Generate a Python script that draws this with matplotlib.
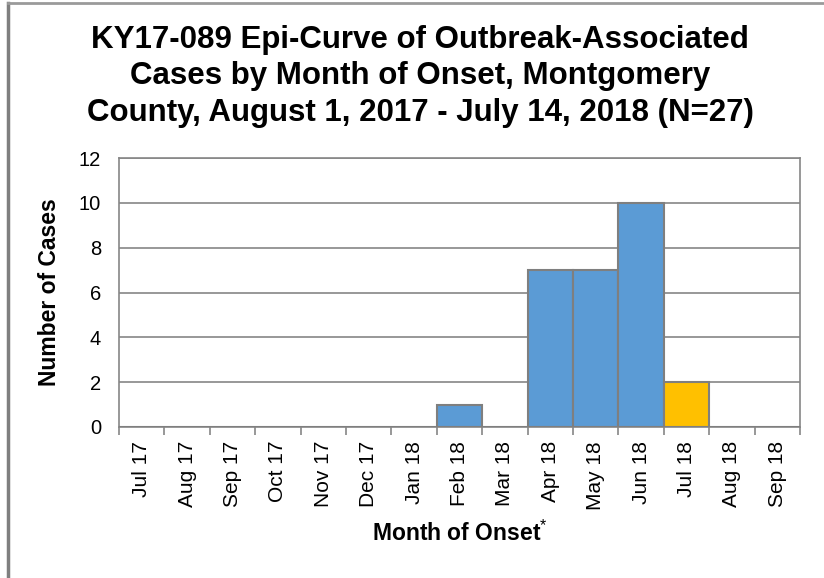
import numpy as np
import matplotlib.pyplot as plt
from matplotlib.lines import Line2D

months = ['Jul 17', 'Aug 17', 'Sep 17', 'Oct 17', 'Nov 17', 'Dec 17', 'Jan 18',
          'Feb 18', 'Mar 18', 'Apr 18', 'May 18', 'Jun 18', 'Jul 18', 'Aug 18', 'Sep 18']
cases = [0, 0, 0, 0, 0, 0, 0, 1, 0, 7, 7, 10, 2, 0, 0]
# last month with cases is still incomplete -> highlighted
partial = [False] * 12 + [True, False, False]

title = ('KY17-089 Epi-Curve of Outbreak-Associated\n'
         'Cases by Month of Onset, Montgomery\n'
         'County, August 1, 2017 - July 14, 2018 (N=27)')

plt.rcParams['font.family'] = ['Liberation Sans', 'DejaVu Sans']
plt.rcParams['mathtext.fontset'] = 'custom'
plt.rcParams['mathtext.rm'] = 'Liberation Sans'
plt.rcParams['mathtext.bf'] = 'Liberation Sans:bold'
grey = '#868686'

fig = plt.figure(figsize=(8.24, 5.78), dpi=100)
ax = fig.add_axes([119/824, 1 - 427/578, 681/824, 269/578])

x = np.arange(len(months))
colors = ['#FFC000' if p else '#5B9BD5' for p in partial]
ax.bar(x, cases, width=1.0, color=colors, edgecolor='#7F7F7F', linewidth=1.5, zorder=3)

ax.set_xlim(-0.5, len(months) - 0.5)
ax.set_ylim(0, 12)
ax.set_yticks(range(0, 13, 2))
ax.yaxis.grid(True, color=grey, linewidth=1.2)
ax.set_axisbelow(True)

ax.set_xticks(x)
ax.set_xticklabels(months, rotation=90, fontsize=15)
ax.set_xticks(np.arange(-0.5, len(months)), minor=True)
ax.tick_params(axis='x', which='major', length=0, pad=10)
ax.tick_params(axis='x', which='minor', length=6, width=1.2, color=grey)
ax.tick_params(axis='y', length=0, pad=13, labelsize=14.5)

for s in ax.spines.values():
    s.set_color(grey)
    s.set_linewidth(1.2)

ax.set_ylabel('Number of Cases', fontsize=16.5, fontweight='bold')
ax.yaxis.set_label_coords(-0.085, 0.5)
ax.set_xlabel(r'Month of Onset$^{\mathrm{*}}$', fontsize=16.5, fontweight='bold')
ax.xaxis.set_label_coords(0.5, -0.35)

fig.text(0.51, 0.957, title, ha='center', va='top', fontsize=22.5,
         fontweight='bold', linespacing=1.28)

# outer chart frame (cropped on right and bottom)
fig.add_artist(Line2D([8/824, 8/824], [0, 1 - 3/578], color='#7F7F7F', linewidth=2.5))
fig.add_artist(Line2D([8/824, 1], [1 - 3/578, 1 - 3/578], color='#9A9A9A', linewidth=2))

fig.savefig('out.png', dpi=100)
